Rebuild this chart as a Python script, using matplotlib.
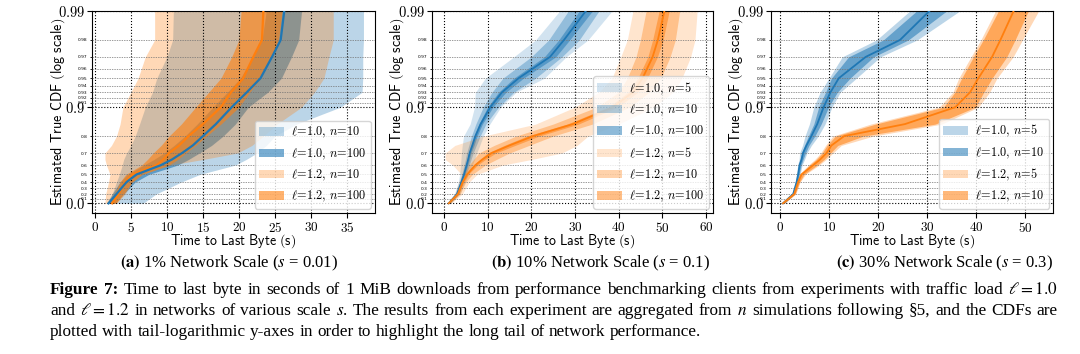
import re
import numpy as np
import matplotlib
matplotlib.use('Agg')
import matplotlib.pyplot as plt
from matplotlib.ticker import FuncFormatter

plt.rcParams['mathtext.fontset'] = 'cm'

levels = [0.0, 0.2, 0.4, 0.5, 0.6, 0.65, 0.7, 0.75, 0.8, 0.85, 0.9, 0.93, 0.95, 0.97, 0.98, 0.99]

# (a) 1% network scale  -- time to last byte (s) at each level
a10_n10_lo = [2.0, 2.4, 3.0, 3.4, 3.8, 4.0, 4.4, 5.0, 5.6, 6.2, 7.0, 8.0, 8.6, 10.0, 10.8, 10.9]
a10_n10_hi = [6.7, 8.5, 12.0, 14.6, 19.5, 21.0, 22.5, 23.8, 25.0, 28.0, 34.1, 37.1, 37.2, 37.2, 37.3, 37.3]
a10_n100_lo = [1.6, 2.4, 3.5, 4.5, 6.8, 8.2, 9.6, 11.0, 12.5, 14.2, 16.4, 18.4, 20.2, 22.0, 23.2, 23.8]
a10_n100_hi = [2.8, 4.0, 5.6, 7.5, 11.5, 13.0, 14.5, 16.2, 17.8, 19.5, 21.3, 24.0, 25.9, 27.3, 28.3, 28.7]
a10_med = [1.9, 3.0, 4.4, 5.8, 9.2, 10.7, 12.1, 13.6, 15.0, 16.8, 19.0, 21.1, 23.0, 24.6, 25.8, 26.3]
a12_n10_lo = [1.4, 1.5, 1.9, 2.1, 1.6, 1.4, 1.4, 2.3, 3.0, 3.5, 3.9, 5.0, 6.0, 7.0, 8.3, 8.3]
a12_n10_hi = [3.0, 4.2, 5.2, 6.5, 10.5, 15.0, 19.8, 21.8, 23.4, 25.3, 28.7, 30.5, 31.8, 32.5, 33.1, 33.1]
a12_n100_lo = [2.0, 2.7, 3.5, 4.3, 6.5, 7.3, 8.1, 9.2, 10.3, 12.0, 14.0, 15.8, 17.5, 19.0, 20.0, 20.3]
a12_n100_hi = [2.9, 4.0, 5.2, 6.6, 10.3, 11.5, 12.6, 14.0, 15.5, 17.5, 20.0, 21.5, 23.0, 24.5, 25.5, 26.0]
a12_med = [2.4, 3.3, 4.2, 5.2, 8.6, 9.5, 10.3, 11.7, 13.0, 15.0, 17.5, 18.9, 20.6, 22.0, 23.2, 23.4]

# (b) 10% network scale
b10_n5_lo = [0.8, 2.4, 3.3, 3.6, 3.8, 3.9, 4.0, 4.2, 4.5, 6.0, 7.0, 7.2, 9.5, 16.0, 21.0, 26.5]
b10_n5_hi = [1.5, 3.6, 4.8, 5.6, 6.5, 7.0, 7.5, 8.2, 9.0, 10.5, 13.0, 16.5, 23.0, 28.0, 33.0, 38.5]
b10_n10_lo = [0.9, 2.6, 3.6, 4.1, 4.6, 4.9, 5.2, 5.7, 6.3, 7.3, 9.0, 11.0, 13.5, 20.0, 24.0, 28.5]
b10_n10_hi = [1.3, 3.4, 4.4, 5.1, 5.8, 6.2, 6.7, 7.4, 8.3, 9.6, 12.5, 16.0, 21.0, 27.0, 31.0, 35.5]
b10_n100_lo = [1.0, 2.8, 3.8, 4.4, 5.0, 5.3, 5.6, 6.2, 6.9, 8.0, 10.0, 12.5, 16.0, 23.0, 26.3, 31.0]
b10_n100_hi = [1.2, 3.2, 4.2, 4.8, 5.5, 5.85, 6.2, 6.9, 7.6, 8.8, 11.2, 14.2, 18.2, 25.6, 28.8, 34.0]
b10_med = [1.1, 3.0, 4.0, 4.6, 5.2, 5.55, 5.9, 6.5, 7.2, 8.4, 10.6, 13.3, 17.1, 24.3, 27.5, 32.5]
b12_n5_lo = [0.9, 2.5, 3.4, 4.0, 2.0, 0.3, 0.3, 2.5, 9.0, 21.0, 30.0, 35.5, 38.5, 40.5, 42.0, 43.3]
b12_n5_hi = [1.6, 4.2, 5.8, 7.6, 13.5, 20.0, 27.0, 30.5, 33.0, 40.0, 48.0, 52.5, 54.5, 56.5, 57.5, 58.0]
b12_n10_lo = [1.0, 2.8, 3.8, 4.5, 5.8, 6.8, 8.0, 11.5, 16.5, 25.0, 35.0, 40.0, 42.0, 44.0, 45.0, 46.3]
b12_n10_hi = [1.4, 3.7, 5.0, 6.5, 9.5, 12.0, 15.0, 19.5, 25.0, 34.0, 42.5, 47.0, 49.7, 51.8, 53.0, 54.0]
b12_n100_lo = [1.0, 3.0, 4.1, 5.0, 6.8, 8.2, 10.0, 13.8, 19.0, 28.2, 37.6, 42.2, 44.4, 46.7, 47.8, 49.3]
b12_n100_hi = [1.2, 3.4, 4.5, 5.6, 7.7, 9.5, 11.9, 16.3, 21.8, 30.8, 39.8, 44.4, 46.6, 48.9, 50.2, 51.6]
b12_med = [1.1, 3.2, 4.3, 5.3, 7.2, 8.8, 10.9, 15.0, 20.4, 29.5, 38.7, 43.3, 45.5, 47.8, 49.0, 50.5]

# (c) 30% network scale
c10_n5_lo = [0.4, 2.4, 3.1, 3.4, 3.6, 3.9, 4.0, 4.6, 5.1, 6.0, 6.9, 8.2, 10.0, 12.7, 19.7, 26.5]
c10_n5_hi = [0.9, 3.0, 3.8, 4.1, 4.5, 5.0, 5.5, 6.4, 7.8, 9.2, 10.6, 12.3, 15.6, 20.5, 28.0, 36.7]
c10_n10_lo = [0.5, 2.5, 3.2, 3.5, 3.8, 4.1, 4.4, 5.0, 5.8, 6.9, 7.9, 9.3, 10.5, 14.0, 21.1, 27.9]
c10_n10_hi = [0.8, 2.9, 3.6, 3.9, 4.3, 4.7, 5.2, 5.9, 7.1, 8.4, 9.9, 11.7, 14.3, 19.1, 26.2, 34.0]
c10_med = [0.6, 2.7, 3.4, 3.7, 4.0, 4.4, 4.7, 5.4, 6.4, 7.6, 8.9, 10.3, 12.0, 17.5, 24.5, 30.5]
c12_n5_lo = [0.4, 2.6, 3.4, 3.9, 5.8, 7.1, 8.3, 9.3, 10.8, 18.5, 32.5, 35.3, 36.5, 39.0, 41.0, 44.0]
c12_n5_hi = [0.9, 3.2, 4.1, 5.2, 8.0, 9.4, 10.8, 12.5, 19.0, 33.0, 40.5, 42.8, 44.3, 47.6, 49.5, 52.8]
c12_n10_lo = [0.5, 2.7, 3.5, 4.1, 6.0, 7.4, 8.6, 9.6, 11.3, 19.5, 33.4, 35.7, 37.1, 39.5, 41.5, 44.6]
c12_n10_hi = [0.8, 3.1, 4.0, 4.9, 7.6, 9.0, 10.3, 11.8, 17.0, 31.7, 39.9, 41.6, 43.3, 46.3, 48.0, 50.7]
c12_med = [0.6, 2.9, 3.7, 4.4, 6.8, 8.2, 9.5, 10.5, 13.1, 25.5, 35.8, 38.8, 40.5, 43.3, 45.0, 47.7]

major_y = [0.0, 0.9, 0.99]
minor_y = [0.1, 0.2, 0.3, 0.4, 0.5, 0.6, 0.7, 0.8,
           0.91, 0.92, 0.93, 0.94, 0.95, 0.96, 0.97, 0.98]

blue = '#1f77b4'
orange = '#ff7f0e'


def tail(y):
    y = np.asarray(y, dtype=float)
    return -np.log10(np.clip(1.0 - y, 1e-9, None))


def untail(t):
    return 1.0 - 10.0 ** (-np.asarray(t, dtype=float))


def lab(l, n):
    return r'$\ell\!=\!%s,\,n\!=\!%d$' % (l, n)


def setup(ax, xlim, xticks):
    ax.set_yscale('function', functions=(tail, untail))
    ax.set_ylim(-0.26, 0.99)
    ax.set_xlim(*xlim)
    ax.set_xticks(xticks)
    ax.xaxis.set_major_formatter(FuncFormatter(lambda v, p: '$%d$' % v))
    ax.tick_params(axis='x', labelsize=9.5, pad=2.5)
    ax.set_yticks(major_y)
    ax.set_yticklabels([r'$\mathsf{0.0}$', r'$\mathsf{0.9}$', r'$\mathsf{0.99}$'], fontsize=10.5)
    ax.set_yticks(minor_y, minor=True)
    ax.set_yticklabels(['%g' % v for v in minor_y], minor=True, fontsize=3.2)
    ax.tick_params(axis='y', which='minor', length=1.5, pad=1.5)
    ax.tick_params(axis='y', which='major', pad=1.5)
    ax.set_axisbelow(False)
    ax.grid(True, which='major', axis='both', ls=':', color='k', lw=0.8)
    ax.grid(True, which='minor', axis='y', ls=(0, (2, 1.5)), color='0.45', lw=0.5)
    ax.set_xlabel(r'$\mathsf{Time\ to\ Last\ Byte\ (s)}$', fontsize=10)
    ax.set_ylabel(r'$\mathsf{Estimated\ True\ CDF\ (log\ scale)}$', fontsize=10.2)
    ax.xaxis.set_label_coords(0.5, -0.095)
    ax.yaxis.set_label_coords(-0.09, 0.5)


def legend(ax):
    ax.legend(loc='lower right', fontsize=8.8, borderaxespad=0.35, borderpad=0.35,
              handletextpad=0.6, labelspacing=0.5)


fig = plt.figure(figsize=(10.8, 3.54), dpi=100)
W, H = 1080.0, 354.0


def box(l, r, t=11, b=213):
    return [l / W, 1 - b / H, (r - l) / W, (b - t) / H]


# ---- (a)
ax = fig.add_axes(box(92, 375))
ax.fill_betweenx(levels, a10_n10_lo, a10_n10_hi, color=blue, alpha=0.3, lw=0, label=lab('1.0', 10))
ax.fill_betweenx(levels, a10_n100_lo, a10_n100_hi, color=blue, alpha=0.6, lw=0, label=lab('1.0', 100))
ax.fill_betweenx(levels, a12_n10_lo, a12_n10_hi, color=orange, alpha=0.3, lw=0, label=lab('1.2', 10))
ax.fill_betweenx(levels, a12_n100_lo, a12_n100_hi, color=orange, alpha=0.6, lw=0, label=lab('1.2', 100))
ax.plot(a12_med, levels, color=orange, lw=1.6, zorder=3)
ax.plot(a10_med, levels, color=blue, lw=1.6, zorder=3)
setup(ax, (-0.4, 38.9), range(0, 36, 5))
legend(ax)

# ---- (b)
ax = fig.add_axes(box(431.7, 713.3))
ax.fill_betweenx(levels, b10_n5_lo, b10_n5_hi, color=blue, alpha=0.2, lw=0, label=lab('1.0', 5))
ax.fill_betweenx(levels, b10_n10_lo, b10_n10_hi, color=blue, alpha=0.35, lw=0, label=lab('1.0', 10))
ax.fill_betweenx(levels, b10_n100_lo, b10_n100_hi, color=blue, alpha=0.5, lw=0, label=lab('1.0', 100))
ax.fill_betweenx(levels, b12_n5_lo, b12_n5_hi, color=orange, alpha=0.2, lw=0, label=lab('1.2', 5))
ax.fill_betweenx(levels, b12_n10_lo, b12_n10_hi, color=orange, alpha=0.35, lw=0, label=lab('1.2', 10))
ax.fill_betweenx(levels, b12_n100_lo, b12_n100_hi, color=orange, alpha=0.5, lw=0, label=lab('1.2', 100))
ax.plot(b10_med, levels, color=blue, lw=1.3, zorder=3)
ax.plot(b12_med, levels, color=orange, lw=1.3, zorder=3)
setup(ax, (-2.8, 61.7), range(0, 61, 10))
legend(ax)

# ---- (c)
ax = fig.add_axes(box(770.7, 1053.3))
ax.fill_betweenx(levels, c10_n5_lo, c10_n5_hi, color=blue, alpha=0.3, lw=0, label=lab('1.0', 5))
ax.fill_betweenx(levels, c10_n10_lo, c10_n10_hi, color=blue, alpha=0.55, lw=0, label=lab('1.0', 10))
ax.fill_betweenx(levels, c12_n5_lo, c12_n5_hi, color=orange, alpha=0.3, lw=0, label=lab('1.2', 5))
ax.fill_betweenx(levels, c12_n10_lo, c12_n10_hi, color=orange, alpha=0.55, lw=0, label=lab('1.2', 10))
ax.plot(c10_med, levels, color=blue, lw=1.3, zorder=3)
ax.plot(c12_med, levels, color=orange, lw=1.3, zorder=3)
setup(ax, (-1.9, 55.8), range(0, 51, 10))
legend(ax)

# ---- captions
serif = 'Liberation Serif'
sub = [(229, r'$\mathbf{(a)}$ 1% Network Scale ($s$ = 0.01)'),
       (600, r'$\mathbf{(b)}$ 10% Network Scale ($s$ = 0.1)'),
       (945, r'$\mathbf{(c)}$ 30% Network Scale ($s$ = 0.3)')]
for x, s in sub:
    fig.text(x / W, 1 - 263 / H, s, ha='center', va='center', fontsize=12,
             family=serif, math_fontfamily='stix')

cap = ['Figure 7: Time to last byte in seconds of 1 MiB downloads from performance benchmarking clients from experiments with traffic load $\\ell = 1.0$',
       'and $\\ell = 1.2$ in networks of various scale $s$. The results from each experiment are aggregated from $n$ simulations following §5, and the CDFs are',
       'plotted with tail-logarithmic y-axes in order to highlight the long tail of network performance.']
cap_fs = 12.4
renderer = fig.canvas.get_renderer()
for i, line in enumerate(cap):
    y = 1 - (290 + 21 * i) / H
    words = re.findall(r'\$[^$]*\$\S*|\S+', line)
    texts = []
    for j, w in enumerate(words):
        bold = i == 0 and j < 2
        texts.append(fig.text(0, y, w, ha='left', va='center', fontsize=cap_fs, family=serif,
                              weight='bold' if bold else 'normal', math_fontfamily='stix'))
    widths = [t.get_window_extent(renderer).width for t in texts]
    space = cap_fs * 100 / 72 * 0.25
    if i < len(cap) - 1:
        # justified lines, as in the paper
        space = (1058 - 50 - sum(widths)) / (len(words) - 1)
    x = 50.0
    for t, w in zip(texts, widths):
        t.set_x(x / W)
        x += w + space

fig.savefig('out.png', dpi=100)
